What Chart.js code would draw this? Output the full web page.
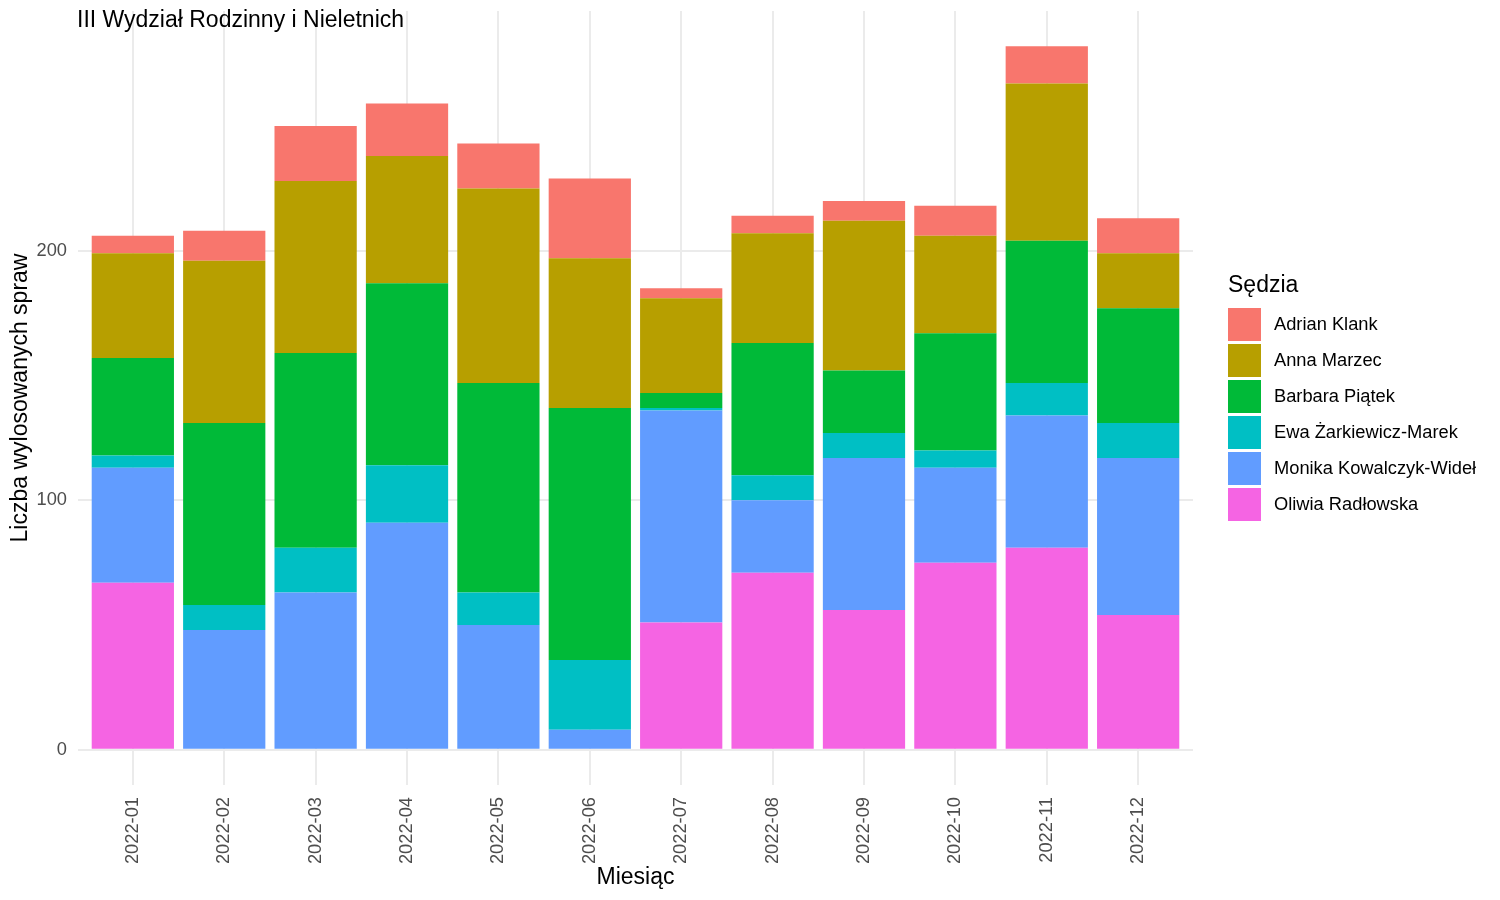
<!DOCTYPE html>
<html>
<head>
<meta charset="utf-8">
<script src="https://cdn.jsdelivr.net/npm/chart.js@4/dist/chart.umd.min.js"></script>
<style>
  html, body { margin: 0; padding: 0; background: #fff; }
</style>
</head>
<body>
<canvas id="barChart" width="1500" height="900"></canvas>
<script>
var chartTitle = 'III Wydział Rodzinny i Nieletnich';
var legendTitle = 'Sędzia';
var months = ['2022-01', '2022-02', '2022-03', '2022-04', '2022-05', '2022-06',
              '2022-07', '2022-08', '2022-09', '2022-10', '2022-11', '2022-12'];

// liczba spraw na sędziego (od dołu stosu)
var oliwia  = [67, 0, 0, 0, 0, 0, 51, 71, 56, 75, 81, 54];
var monika  = [46, 48, 63, 91, 50, 8, 85, 29, 61, 38, 53, 63];
var ewa     = [5, 10, 18, 23, 13, 28, 1, 10, 10, 7, 13, 14];
var barbara = [39, 73, 78, 73, 84, 101, 6, 53, 25, 47, 57, 46];
var anna    = [42, 65, 69, 51, 78, 60, 38, 44, 60, 39, 63, 22];
var adrian  = [7, 12, 22, 21, 18, 32, 4, 7, 8, 12, 15, 14];

var FONT = '"Liberation Sans", Arial, sans-serif';
Chart.defaults.font.family = FONT;

function pts(arr) {
  return arr.map(function(v, i) { return { x: i + 1, y: v }; });
}

function ds(label, values, color) {
  return {
    label: label,
    data: pts(values),
    backgroundColor: color,
    borderWidth: 0,
    barPercentage: 0.9,
    categoryPercentage: 1.0
  };
}

// tytuł i legenda rysowane ręcznie
var decorations = {
  id: 'decorations',
  afterDraw: function(chart) {
    var ctx = chart.ctx;
    ctx.save();
    ctx.fillStyle = '#000';
    ctx.textAlign = 'left';
    ctx.textBaseline = 'alphabetic';
    ctx.font = '23px ' + FONT;
    ctx.fillText(chartTitle, 77, 27);
    ctx.fillText(legendTitle, 1228, 292);
    ctx.font = '18.3px ' + FONT;
    ctx.textBaseline = 'middle';
    var sets = chart.data.datasets.slice().reverse();
    sets.forEach(function(d, i) {
      var top = 308 + i * 36;
      ctx.fillStyle = d.backgroundColor;
      ctx.fillRect(1228, top, 33, 33);
      ctx.fillStyle = '#000';
      ctx.fillText(d.label, 1274, top + 17);
    });
    ctx.restore();
  }
};

var ctx = document.getElementById('barChart').getContext('2d');
var barChart = new Chart(ctx, {
  type: 'bar',
  data: {
    datasets: [
      ds('Oliwia Radłowska', oliwia, '#F564E3'),
      ds('Monika Kowalczyk-Wideł', monika, '#619CFF'),
      ds('Ewa Żarkiewicz-Marek', ewa, '#00BFC4'),
      ds('Barbara Piątek', barbara, '#00BA38'),
      ds('Anna Marzec', anna, '#B79F00'),
      ds('Adrian Klank', adrian, '#F8766D')
    ]
  },
  options: {
    responsive: false,
    animation: false,
    layout: { padding: { top: 0, right: 307, bottom: 0, left: 0 } },
    plugins: {
      legend: { display: false },
      tooltip: { enabled: false }
    },
    scales: {
      x: {
        type: 'linear',
        stacked: true,
        offset: false,
        min: 0.4,
        max: 12.6,
        afterFit: function(s) {
          s.height = 115;
          s.paddingLeft = 0;
          s.paddingRight = 0;
        },
        grid: { color: '#EBEBEB', lineWidth: 2, drawTicks: false, offset: false },
        border: { display: false },
        ticks: {
          stepSize: 1,
          includeBounds: false,
          autoSkip: false,
          minRotation: 90,
          maxRotation: 90,
          padding: 12,
          color: '#4D4D4D',
          font: { size: 18.3 },
          callback: function(v) { return months[v - 1]; }
        },
        title: {
          display: true,
          text: 'Miesiąc',
          color: '#000',
          font: { size: 23 },
          padding: { top: 0, bottom: 9 }
        }
      },
      y: {
        stacked: true,
        min: -14.1,
        max: 296.1,
        afterFit: function(s) {
          s.width = 78;
          s.paddingTop = 11;
          s.paddingBottom = 0;
        },
        grid: { color: '#EBEBEB', lineWidth: 2, drawTicks: false },
        border: { display: false },
        ticks: {
          stepSize: 100,
          includeBounds: false,
          padding: 11,
          color: '#4D4D4D',
          font: { size: 18.3 }
        },
        title: {
          display: true,
          text: 'Liczba wylosowanych spraw',
          color: '#000',
          font: { size: 23 },
          padding: { top: 7, bottom: 2 }
        }
      }
    }
  },
  plugins: [decorations]
});
</script>
</body>
</html>
